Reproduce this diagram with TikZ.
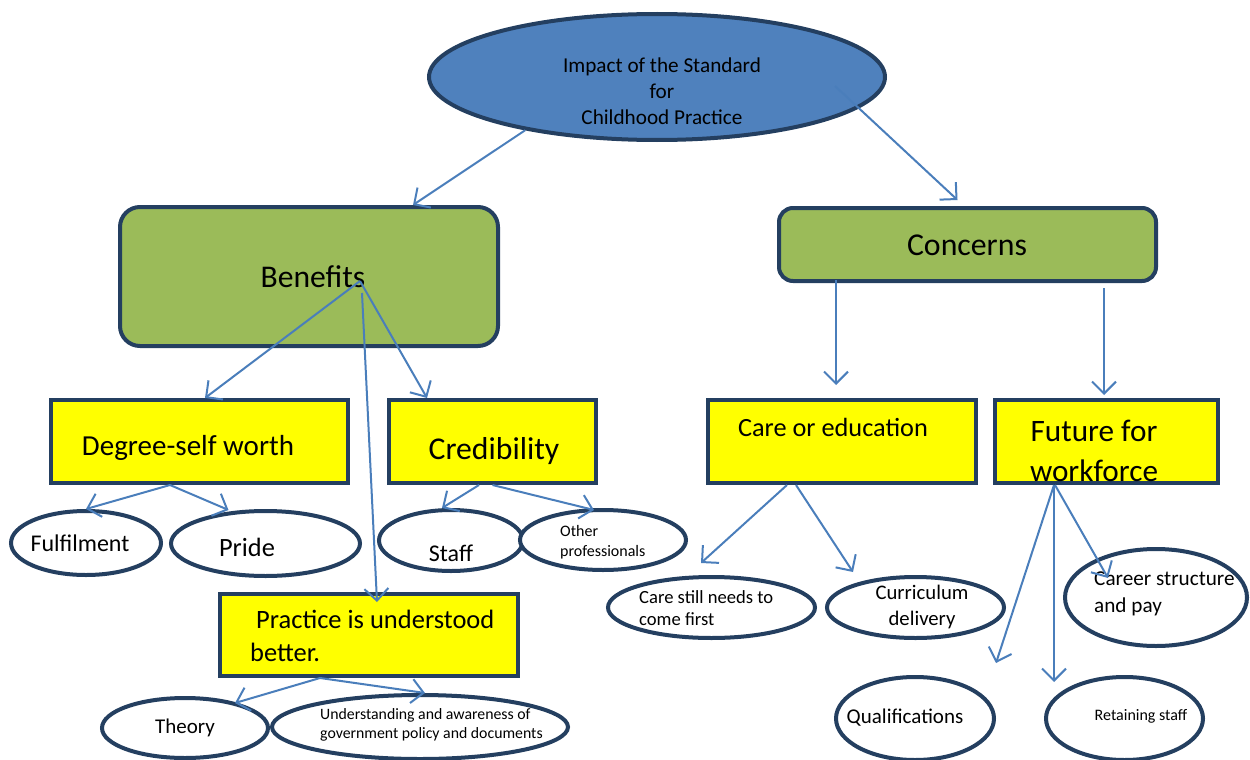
\documentclass[tikz,border=0pt]{standalone}
\usepackage{fontspec}
\setmainfont{Carlito}
\usetikzlibrary{shapes.geometric,arrows.meta}

\definecolor{topblue}{HTML}{4F81BD}
\definecolor{navy}{HTML}{243F60}
\definecolor{leafgreen}{HTML}{9BBB59}
\definecolor{linkblue}{HTML}{4A7EBB}
\definecolor{boxyellow}{RGB}{255,255,0}

\begin{document}
\begin{tikzpicture}[x=1pt,y=-1pt,
  oval/.style={ellipse, draw=navy, line width=4pt, fill=white},
  greenbox/.style={rectangle, draw=navy, line width=4pt, fill=leafgreen, rounded corners=20pt},
  yellowbox/.style={rectangle, draw=navy, line width=4pt, fill=boxyellow},
  words/.style={inner sep=0pt, align=left},
  link/.style={draw=linkblue, line width=2pt, -{Straight Barb[length=12pt,width=24pt]}}]
\useasboundingbox (0,0) rectangle (1250,760);

% Top ellipse and the two green boxes
\node[oval, fill=topblue, minimum width=456, minimum height=126] (impact) at (657,77) {};
\node[greenbox, minimum width=378, minimum height=139] (benefits) at (309,276.5) {};
\node[greenbox, rounded corners=14pt, minimum width=377, minimum height=73] (concerns) at (967.5,244.5) {};

% Yellow boxes
\node[yellowbox, minimum width=297, minimum height=83] (degree) at (199.5,441.5) {};
\node[yellowbox, minimum width=207, minimum height=83] (cred) at (492.5,441.5) {};
\node[yellowbox, minimum width=268, minimum height=83] (care) at (842,441.5) {};
\node[yellowbox, minimum width=223, minimum height=83] (future) at (1106.5,441.5) {};
\node[yellowbox, minimum width=298, minimum height=82] (practice) at (369,635) {};

% Ellipses at the bottom
\node[oval, minimum width=150, minimum height=64] (fulfil) at (86,543) {};
\node[oval, minimum width=189, minimum height=65] (pride) at (265.5,543.5) {};
\node[oval, minimum width=144, minimum height=61] (staff) at (451,540.5) {};
\node[oval, minimum width=166, minimum height=60] (other) at (603,540) {};
\node[oval, minimum width=207, minimum height=61] (carefirst) at (711.5,607.5) {};
\node[oval, minimum width=177, minimum height=61] (curric) at (915.5,607.5) {};
\node[oval, minimum width=182, minimum height=97] (career) at (1156,597.5) {};
\node[oval, minimum width=158, minimum height=83] (qual) at (915,718.5) {};
\node[oval, minimum width=157, minimum height=83] (retain) at (1124.5,718.5) {};
\node[oval, minimum width=166, minimum height=60] (theory) at (185,728) {};
\node[oval, minimum width=296, minimum height=64] (underst) at (420,727) {};

% Texts
\node[words, align=center, font={\fontsize{21.2}{26}\selectfont}] (impacttext) at (662,91) {Impact of the Standard\\for\\Childhood Practice};
\node[words, font={\fontsize{31.6}{38}\selectfont}] (benefitstext) at (313,277) {Benefits};
\node[words, font={\fontsize{31.8}{38}\selectfont}] (concernstext) at (967,245) {Concerns};
\node[words, font={\fontsize{29}{35}\selectfont}] (degreetext) at (188,448) {Degree-self worth};
\node[words, font={\fontsize{31.7}{38}\selectfont}] (credtext) at (494,451) {Credibility};
\node[words, font={\fontsize{26.3}{32}\selectfont}] (caretext) at (833,427) {Care or education};
\node[words, align=center, font={\fontsize{31.2}{40}\selectfont}] (futuretext) at (1094,451) {Future for\\workforce};
\node[words, anchor=west, font={\fontsize{26.5}{33}\selectfont}] (practicetext) at (250,636) {\hspace*{6pt}Practice is understood\\better.};
\node[words, font={\fontsize{24}{29}\selectfont}] (fulfiltext) at (80,543) {Fulfilment};
\node[words, font={\fontsize{26.4}{32}\selectfont}] (pridetext) at (247,547) {Pride};
\node[words, font={\fontsize{24}{29}\selectfont}] (stafftext) at (451,553) {Staff};
\node[words, anchor=west, font={\fontsize{16}{20}\selectfont}] (othertext) at (560,542) {Other\\professionals};
\node[words, anchor=west, font={\fontsize{18.6}{22}\selectfont}] (carefirsttext) at (639,608) {Care still needs to\\come first};
\node[words, align=center, font={\fontsize{20.7}{26}\selectfont}] (currictext) at (922,607) {Curriculum\\delivery};
\node[words, anchor=west, font={\fontsize{21.2}{27}\selectfont}] (careertext) at (1094,593.5) {Career structure\\and pay};
\node[words, font={\fontsize{21}{26}\selectfont}] (qualtext) at (905,718) {Qualifications};
\node[words, font={\fontsize{16}{20}\selectfont}] (retaintext) at (1141,716) {Retaining staff};
\node[words, font={\fontsize{21}{26}\selectfont}] (theorytext) at (185,728) {Theory};
\node[words, anchor=west, font={\fontsize{15.8}{19}\selectfont}] (understtext) at (320,724.5) {Understanding and awareness of\\government policy and documents};

% Arrows from the top ellipse
\draw[link] (impact.-158) -- ([xshift=104pt]benefits.north);
\draw[link] ([xshift=178pt,yshift=-9pt]impact.center) -- ([xshift=-10pt,yshift=6pt]concerns.north);

% Arrows from Benefits
\draw[link] ([xshift=51pt,yshift=-4.5pt]benefits.center) -- ([xshift=5.5pt]degree.north);
\draw[link] ([xshift=51pt,yshift=-4.5pt]benefits.center) -- ([xshift=-65.5pt]cred.north);
\draw[link] ([xshift=53pt,yshift=-16.5pt]benefits.center) -- ([xshift=8pt,yshift=-10pt]practice.north);

% Arrows from Concerns
\draw[link] ([xshift=-131.5pt,yshift=3pt]concerns.south) -- ([xshift=-6pt,yshift=13pt]care.north);
\draw[link] ([xshift=136.5pt,yshift=-5pt]concerns.south) -- ([xshift=-2.5pt,yshift=3pt]future.north);

% Arrows from the yellow boxes
\draw[link] ([xshift=-29.5pt]degree.south) -- (fulfil.north);
\draw[link] ([xshift=-29.5pt]degree.south) -- ([xshift=-37pt,yshift=-1pt]pride.north);
\draw[link] ([xshift=-13.5pt]cred.south) -- ([xshift=-9pt]staff.north);
\draw[link] (cred.south) -- ([xshift=-9pt,yshift=-2pt]other.north);
\draw[link] ([xshift=-55pt]care.south) -- ([xshift=-10.5pt,yshift=12pt]carefirst.north);
\draw[link] ([xshift=-46pt]care.south) -- ([xshift=-62.5pt,yshift=3pt]curric.north);
\draw[link] ([xshift=-52.5pt]future.south) -- ([xshift=81pt,yshift=12pt]qual.north);
\draw[link] ([xshift=-52.5pt]future.south) -- ([xshift=-70.5pt,yshift=-7pt]retain.north);
\draw[link] ([xshift=-51.5pt]future.south) -- ([xshift=-48pt,yshift=19.5pt]career.center);
\draw[link] ([xshift=-49pt]practice.south) -- ([xshift=50pt,yshift=-7pt]theory.north);
\draw[link] ([xshift=-49pt]practice.south) -- ([xshift=5pt]underst.north);
\end{tikzpicture}
\end{document}
